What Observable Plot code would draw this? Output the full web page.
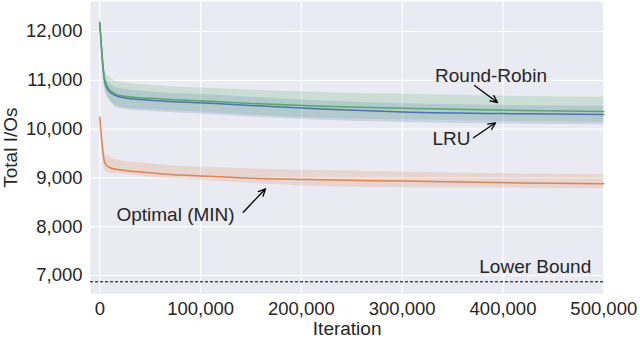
<!DOCTYPE html>
<html>
<head>
<meta charset="utf-8">
<script src="https://cdn.jsdelivr.net/npm/d3@7"></script>
<script src="https://cdn.jsdelivr.net/npm/@observablehq/plot@0.6"></script>
<style>
  html, body { margin: 0; padding: 0; background: white; }
</style>
</head>
<body>
<div id="chart"></div>
<script>
// ---- data ----
const iterations = [0, 5000, 10000, 20000, 50000, 70000, 100000, 150000, 220000, 300000, 420000, 500000];

const rrMean  = [12190, 11000, 10800, 10690, 10630, 10605, 10580, 10525, 10470, 10425, 10381, 10360];
const rrUpper = [12330, 11200, 11050, 10960, 10900, 10870, 10840, 10800, 10750, 10715, 10670, 10655];
const rrLower = [12050, 10850, 10600, 10450, 10400, 10380, 10350, 10290, 10225, 10190, 10155, 10140];

const lruMean  = [12170, 10960, 10760, 10660, 10590, 10565, 10540, 10485, 10410, 10350, 10313, 10300];
const lruUpper = [12300, 11100, 10930, 10830, 10760, 10730, 10710, 10655, 10575, 10520, 10480, 10470];
const lruLower = [12040, 10820, 10580, 10420, 10360, 10340, 10310, 10250, 10180, 10135, 10100, 10090];

const optMean  = [10244, 9310, 9207, 9166, 9105, 9070, 9040, 8995, 8961, 8935, 8895, 8880];
const optUpper = [10350, 9500, 9420, 9357, 9290, 9254, 9225, 9185, 9150, 9120, 9080, 9070];
const optLower = [10140, 9150, 9100, 9084, 9010, 8984, 8950, 8890, 8820, 8800, 8790, 8783];

const lowerBound = 6871;

const xTicks = [0, 100000, 200000, 300000, 400000, 500000];
const yTicks = [7000, 8000, 9000, 10000, 11000, 12000];

const annoLabels = ["Round-Robin", "LRU", "Optimal (MIN)", "Lower Bound"];
const annoX = [388100, 348900, 75100, 432000];
const annoY = [11098, 9807, 8250, 7185];

const arrowX1 = [371700, 370700, 142300];
const arrowY1 = [10893, 9822, 8297];
const arrowX2 = [394600, 392600, 164400];
const arrowY2 = [10545, 10129, 8777];

const seriesNames = ["LRU", "Round-Robin", "Optimal (MIN)"];
const seriesColors = ["#4c72b0", "#55a868", "#dd8452"];

// ---- build tables ----
function rows(name, mean, lo, hi) {
  return iterations.map((it, i) => ({series: name, it, mean: mean[i], lo: lo[i], hi: hi[i]}));
}
const seriesData = [
  rows("LRU", lruMean, lruLower, lruUpper),
  rows("Round-Robin", rrMean, rrLower, rrUpper),
  rows("Optimal (MIN)", optMean, optLower, optUpper)
];
const annos = annoLabels.map((t, i) => ({t, x: annoX[i], y: annoY[i]}));
const arrows = arrowX1.map((x, i) => ({x1: x, y1: arrowY1[i], x2: arrowX2[i], y2: arrowY2[i]}));

const font = "'Liberation Sans', Arial, Helvetica, sans-serif";
const ink = "#262626";

const marks = [
  Plot.frame({fill: "#eaeaf2", stroke: "none"}),
  Plot.gridX(xTicks, {stroke: "white", strokeOpacity: 1, strokeWidth: 1.2}),
  Plot.gridY(yTicks, {stroke: "white", strokeOpacity: 1, strokeWidth: 1.2})
];
seriesData.forEach((d, k) => {
  marks.push(Plot.areaY(d, {x: "it", y1: "lo", y2: "hi", fill: seriesColors[k], fillOpacity: 0.2, curve: "monotone-x"}));
});
seriesData.forEach((d, k) => {
  marks.push(Plot.lineY(d, {x: "it", y: "mean", stroke: seriesColors[k], strokeWidth: 1.5, curve: "monotone-x"}));
});
marks.push(
  Plot.ruleY([lowerBound], {stroke: "black", strokeWidth: 1, strokeDasharray: "3,2"}),
  Plot.arrow(arrows, {x1: "x1", y1: "y1", x2: "x2", y2: "y2", stroke: "black", strokeWidth: 1.3, headLength: 9, headAngle: 50}),
  Plot.text(annos, {x: "x", y: "y", text: "t", fontSize: 19, fill: ink}),
  Plot.axisX(xTicks, {tickSize: 0, tickPadding: 8, tickFormat: d3.format(","), fontSize: 18.5, fill: ink, label: null}),
  Plot.axisY(yTicks, {tickSize: 0, tickPadding: 8, tickFormat: d3.format(","), fontSize: 18.5, fill: ink, label: null}),
  Plot.text(["Iteration"], {frameAnchor: "bottom", lineAnchor: "middle", dy: 35, fontSize: 19, fill: ink}),
  Plot.text(["Total I/Os"], {frameAnchor: "left", textAnchor: "middle", lineAnchor: "middle", dx: -80, rotate: -90, fontSize: 19, fill: ink})
);

const chart = Plot.plot({
  width: 640,
  height: 338,
  marginLeft: 90,
  marginRight: 36.7,
  marginTop: 1,
  marginBottom: 44.7,
  style: {fontFamily: font, background: "white", color: ink, overflow: "visible"},
  x: {domain: [-9226, 500000]},
  y: {domain: [6625, 12615]},
  marks
});
document.getElementById("chart").appendChild(chart);
</script>
</body>
</html>
